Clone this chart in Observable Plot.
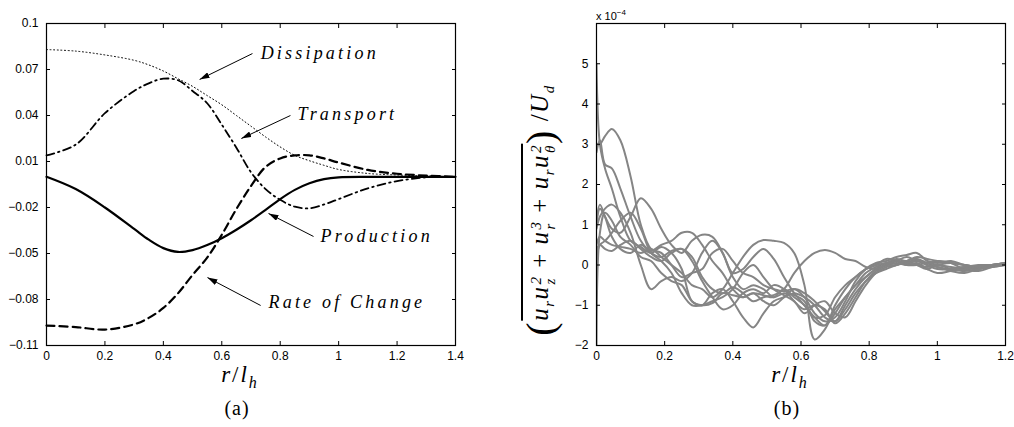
<!DOCTYPE html>
<html><head><meta charset="utf-8">
<script src="https://cdn.jsdelivr.net/npm/d3@7"></script>
<script src="https://cdn.jsdelivr.net/npm/@observablehq/plot@0.6"></script>
<style>
body{margin:0;background:#fff}
#wrap{position:relative;width:1014px;height:427px;background:#fff;font-family:"Liberation Sans",Arial,sans-serif;overflow:hidden}
.pl{position:absolute;top:0}
.math{font-family:"Liberation Serif","DejaVu Serif",serif;font-style:italic;position:absolute;white-space:nowrap;color:#000;line-height:1}
.up{font-style:normal}
.cap{font-family:"Liberation Serif",serif;position:absolute;font-size:20px;letter-spacing:1px;transform:translate(-50%,-50%);white-space:nowrap}
.ss{display:inline-flex;flex-direction:column;font-size:15px;line-height:14px;vertical-align:7px;margin-left:1px}
.sb{font-size:15px;vertical-align:-6px}
</style></head><body>
<div id="wrap">
<div id="pa" class="pl" style="left:0"></div>
<div id="pb" class="pl" style="left:500px"></div>
<div class="math" style="left:240px;top:377px;transform:translate(-50%,-50%);font-size:23px;letter-spacing:2px">r<span class="up">/</span>l<span class="sb" style="font-size:16px">h</span></div>
<div class="math" style="left:790px;top:377px;transform:translate(-50%,-50%);font-size:23px;letter-spacing:2px">r<span class="up">/</span>l<span class="sb" style="font-size:16px">h</span></div>
<div class="cap" style="left:237px;top:408px">(a)</div>
<div class="cap" style="left:787px;top:408px">(b)</div>
<div style="position:absolute;left:596px;top:8px;font-size:11px;white-space:nowrap">x 10<sup style="font-size:8px">−4</sup></div>
<div class="math" style="left:541px;top:210px;transform:translate(-50%,-50%) rotate(-90deg);font-size:25px;letter-spacing:1.5px"><span class="up" style="font-size:40px;vertical-align:-6px">(</span><span style="border-top:2.5px solid #000;padding-top:3px">u<span class="sb">r</span>u<span class="ss"><span>2</span><span>z</span></span> <span class="up">+</span> u<span class="ss"><span>3</span><span>r</span></span> <span class="up">+</span> u<span class="sb">r</span>u<span class="ss"><span>2</span><span>θ</span></span></span><span class="up" style="font-size:40px;vertical-align:-6px">)</span> <span class="up">/</span>U<span class="sb">d</span></div>
</div>
<script>
// ---------- Panel (a) data ----------
const rA = [0,0.1,0.2,0.3,0.35,0.4,0.45,0.5,0.55,0.6,0.65,0.7,0.75,0.8,0.85,0.9,0.95,1.0,1.1,1.2,1.3,1.4];
const production   = [0,-0.008,-0.020,-0.034,-0.041,-0.0465,-0.049,-0.0478,-0.0445,-0.0400,-0.0345,-0.0283,-0.0215,-0.0145,-0.0085,-0.0042,-0.0015,-0.0003,0,0,0,0];
const rateOfChange = [-0.097,-0.098,-0.0996,-0.0962,-0.092,-0.0855,-0.076,-0.064,-0.0527,-0.0378,-0.021,-0.006,0.0065,0.012,0.014,0.014,0.012,0.0093,0.0045,0.002,0.0008,0];
const transport    = [0.014,0.021,0.0415,0.056,0.061,0.064,0.063,0.056,0.048,0.034,0.019,0.003,-0.008,-0.015,-0.0195,-0.0205,-0.018,-0.0145,-0.0075,-0.0028,-0.0003,0];
const dissipation  = [0.083,0.082,0.0795,0.076,0.073,0.069,0.064,0.059,0.053,0.047,0.040,0.033,0.026,0.0195,0.014,0.0105,0.0075,0.0048,0.0022,0.0012,0.0006,0];
const xTicksA = [0,0.2,0.4,0.6,0.8,1,1.2,1.4];
const yTicksA = [0.1,0.07,0.04,0.01,-0.02,-0.05,-0.08,-0.11];
const annLabels = ["Dissipation","Transport","Production","Rate of Change"];
const annTextR  = [0.733,0.859,0.938,0.760];
const annTextV  = [0.0804,0.0407,-0.0389,-0.082];
const annFromR  = [0.705,0.835,0.914,0.733];
const annFromV  = [0.0804,0.0400,-0.0389,-0.0839];
const annToR    = [0.524,0.667,0.760,0.551];
const annToV    = [0.0635,0.025,-0.0239,-0.0657];

// ---------- Panel (b) data (units of 1e-4) ----------
const rB = [0,0.01,0.025,0.045,0.07,0.1,0.13,0.16,0.19,0.22,0.25,0.28,0.31,0.34,0.37,0.4,0.43,0.46,0.49,0.52,0.55,0.58,0.61,0.64,0.67,0.7,0.73,0.76,0.79,0.82,0.85,0.88,0.91,0.94,0.97,1.0,1.04,1.08,1.12,1.16,1.2];
const run1  = [5.0,3.0,2.4,1.9,1.2,0.6,0.45,0.3,0.45,0.3,-0.1,-0.9,-1.0,-0.95,-0.7,-0.75,-0.8,-0.7,-0.75,-0.8,-0.6,-0.8,-1.0,-1.3,-1.5,-1.2,-0.8,-0.5,-0.2,-0.05,0.05,0.1,0.05,0.15,0.05,-0.05,-0.1,-0.05,-0.1,0.0,0.0];
const run2  = [-2.0,0.8,1.3,1.1,0.7,0.5,0.2,0.1,-0.2,-0.4,-0.5,-0.9,-1.0,-0.7,-0.6,-0.9,-1.3,-1.55,-1.2,-0.9,-0.8,-0.7,-0.8,-1.0,-1.3,-1.4,-1.0,-0.6,-0.3,-0.1,0.0,0.0,0.1,0.0,-0.1,0.0,-0.1,-0.15,-0.1,-0.05,0.0];
const run3  = [3.0,3.0,3.2,3.38,3.1,2.2,1.0,0.4,0.3,0.0,-0.3,-0.2,-0.1,0.3,0.4,0.1,-0.2,-0.3,-0.5,-0.6,-0.65,-0.6,-0.8,-1.2,-1.4,-1.3,-0.9,-0.4,-0.1,0.05,0.1,0.2,0.25,0.3,0.1,0.05,0.1,0.0,-0.05,0.0,0.05];
const run4  = [2.8,3.1,2.5,2.4,1.9,1.2,0.6,0.3,0.2,0.35,0.4,0.1,-0.4,-0.8,-1.1,-1.0,-0.7,-0.6,-0.7,-0.5,-0.6,-0.9,-1.1,-1.0,-1.1,-1.45,-1.2,-0.8,-0.4,-0.15,0.0,0.1,0.2,0.1,0.05,0.1,0.05,-0.1,-0.05,0.0,0.0];
const run5  = [1.0,1.4,1.2,0.9,0.8,1.2,1.66,1.4,0.9,0.5,0.3,0.6,0.75,0.7,0.3,-0.3,-0.6,-0.5,-0.6,-0.8,-0.7,-0.75,-0.9,-1.4,-1.5,-1.0,-0.6,-0.3,-0.1,0.0,0.15,0.1,0.0,0.0,0.05,0.0,-0.05,-0.1,-0.15,-0.05,0.05];
const run6  = [0.9,1.2,1.4,1.5,1.3,0.8,0.0,-0.6,-0.4,-0.3,-0.4,-0.2,0.3,0.6,0.3,-0.2,-0.1,0.2,0.4,0.15,-0.3,-0.7,-1.0,-1.3,-1.25,-0.8,-0.5,-0.3,-0.1,0.0,0.05,0.15,0.1,0.2,0.15,0.1,0.05,0.0,-0.05,0.0,0.05];
const run7  = [0.5,0.7,0.6,0.5,0.45,0.4,0.3,0.4,0.2,0.0,-0.2,-0.5,-0.6,-0.8,-0.6,-0.2,0.2,0.5,0.62,0.6,0.55,0.3,-0.5,-1.85,-1.6,-1.1,-0.8,-0.5,-0.3,-0.1,0.0,0.05,0.0,0.05,-0.1,-0.2,-0.15,-0.1,-0.05,0.0,0.0];
const run8  = [0.4,0.5,0.4,0.35,0.5,0.6,0.4,0.2,0.1,0.3,0.4,0.2,-0.3,-0.6,-0.7,-0.55,-0.7,-0.9,-0.8,-0.75,-0.6,-0.2,0.1,0.3,0.37,0.3,0.15,0.1,-0.05,-0.1,0.0,0.1,0.05,0.0,-0.05,0.0,0.05,0.0,-0.05,0.0,0.05];
const run9  = [1.1,1.5,1.2,0.7,0.4,0.3,0.5,0.35,0.5,0.6,0.8,0.8,0.5,0.1,-0.2,-0.6,-0.8,-0.7,-0.9,-1.0,-0.8,-0.6,-0.7,-0.9,-1.15,-1.4,-1.1,-0.7,-0.4,-0.2,-0.1,0.0,0.05,0.1,0.0,-0.1,-0.1,-0.05,0.0,0.0,0.05];
const run10 = [0.2,0.5,0.6,0.8,1.1,1.3,0.9,0.3,0.1,-0.2,-0.7,-1.0,-1.0,-0.9,-0.8,-0.6,-0.2,0.0,-0.3,-0.6,-0.75,-0.9,-1.2,-1.0,-0.9,-1.2,-1.3,-0.9,-0.5,-0.2,-0.05,0.0,0.1,0.15,0.0,-0.05,-0.15,-0.2,-0.1,-0.05,0.0];
const runs = [run1,run2,run3,run4,run5,run6,run7,run8,run9,run10];
const xTicksB = [0,0.2,0.4,0.6,0.8,1,1.2];
const yTicksB = [-2,-1,0,1,2,3,4,5];

// ---------- helpers ----------
const fmt = d3.format("~g");
const tbl = (rs, vs) => rs.map((r, i) => ({r, v: vs[i]}));
const ann = annLabels.map((t, i) => ({t, tr: annTextR[i], tv: annTextV[i], fr: annFromR[i], fv: annFromV[i], er: annToR[i], ev: annToV[i]}));
const tableB = runs.flatMap((vs, k) => rB.map((r, i) => ({id: k, r, v: vs[i]})));
const blank = () => "";
const axStyle = {fontFamily: "Liberation Sans, Arial, sans-serif", fontSize: "12px", color: "#000", background: "#fff", overflow: "visible"};

function boxAxes(xt, yt) {
  return [
    Plot.frame({stroke: "#000", strokeWidth: 1.2}),
    Plot.axisX(xt, {anchor: "bottom", tickSize: -4, tickPadding: 10, tickFormat: fmt, label: null, fontSize: 12}),
    Plot.axisX(xt, {anchor: "top", tickSize: -4, tickFormat: blank, label: null}),
    Plot.axisY(yt, {anchor: "left", tickSize: -4, tickPadding: 12, tickFormat: fmt, label: null, fontSize: 12}),
    Plot.axisY(yt, {anchor: "right", tickSize: -4, tickFormat: blank, label: null})
  ];
}
function bigTicks(svg) {
  d3.select(svg).selectAll('g[aria-label="x-axis tick label"], g[aria-label="y-axis tick label"]')
    .attr("font-size", "12px").style("font-size", "12px")
    .selectAll("text").attr("font-size", "12px").style("font-size", "12px");
}

const pa = Plot.plot({
  width: 500, height: 370, marginLeft: 46, marginRight: 45, marginTop: 23, marginBottom: 25,
  style: axStyle,
  x: {domain: [0, 1.4], label: null},
  y: {domain: [-0.11, 0.1], label: null},
  marks: [
    Plot.line(tbl(rA, dissipation), {x: "r", y: "v", stroke: "#000", strokeWidth: 1, strokeDasharray: "1,2.6", curve: "catmull-rom"}),
    Plot.line(tbl(rA, transport), {x: "r", y: "v", stroke: "#000", strokeWidth: 1.8, strokeDasharray: "8,4,1.5,4", curve: "catmull-rom"}),
    Plot.line(tbl(rA, rateOfChange), {x: "r", y: "v", stroke: "#000", strokeWidth: 2.2, strokeDasharray: "8,5", curve: "catmull-rom"}),
    Plot.line(tbl(rA, production), {x: "r", y: "v", stroke: "#000", strokeWidth: 2.2, curve: "catmull-rom"}),
    ...boxAxes(xTicksA, yTicksA),
    Plot.link(ann, {x1: "fr", y1: "fv", x2: "er", y2: "ev", stroke: "#000", strokeWidth: 1}),
    Plot.text(ann, {x: "tr", y: "tv", text: "t", textAnchor: "start", fontSize: 18, fontStyle: "italic", fontFamily: "Liberation Serif, DejaVu Serif, serif", fill: "#000"})
  ]
});
document.getElementById("pa").appendChild(pa);
bigTicks(pa);

// filled arrowheads for annotation links
const svgA = d3.select(pa);
svgA.append("defs").append("marker")
  .attr("id", "ahead").attr("viewBox", "0 0 10 6").attr("refX", 10).attr("refY", 3)
  .attr("markerWidth", 10).attr("markerHeight", 6).attr("markerUnits", "userSpaceOnUse").attr("orient", "auto")
  .append("path").attr("d", "M0,0L10,3L0,6Z").attr("fill", "#000");
svgA.selectAll('g[aria-label="link"] path').attr("marker-end", "url(#ahead)");
svgA.selectAll('g[aria-label="text"]').attr("letter-spacing", "3.2px");

const pb = Plot.plot({
  width: 514, height: 370, marginLeft: 96, marginRight: 9, marginTop: 23, marginBottom: 25,
  style: axStyle,
  x: {domain: [0, 1.2], label: null},
  y: {domain: [-2, 6], label: null},
  marks: [
    Plot.line(tableB, {x: "r", y: "v", z: "id", stroke: "#858585", strokeWidth: 2, curve: "catmull-rom", clip: true}),
    ...boxAxes(xTicksB, yTicksB)
  ]
});
document.getElementById("pb").appendChild(pb);
bigTicks(pb);
</script>
</body></html>
